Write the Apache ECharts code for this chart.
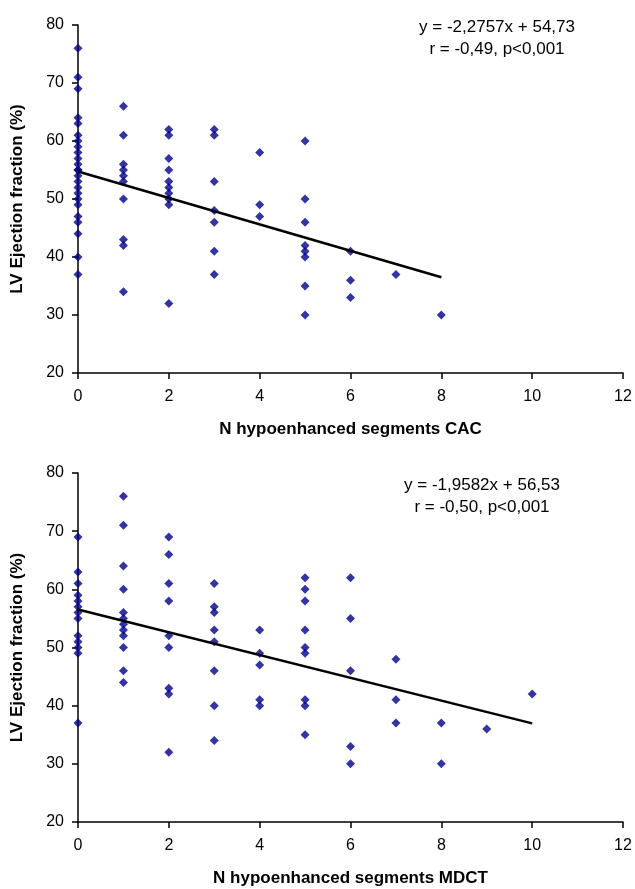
<!DOCTYPE html>
<html>
<head>
<meta charset="utf-8">
<script src="https://cdn.jsdelivr.net/npm/echarts@6/dist/echarts.min.js"></script>
<style>
html,body{margin:0;padding:0;background:#fff;}
#chart{width:635px;height:889px;}
</style>
</head>
<body>
<div id="chart"></div>
<script>
// ---- Data (CAC) : EF values grouped by number of hypoenhanced segments ----
const cacSegments = [0, 1, 2, 3, 4, 5, 6, 7, 8];
const cacEF = [
  [76,71,69,64,63,61,60,59,58,57,56,55,55,54,53,52,51,50,49,47,46,44,40,37],
  [66,61,56,55,54,53,50,43,42,34],
  [62,61,57,55,53,52,51,50,49,32],
  [62,61,53,48,46,41,37],
  [58,49,47],
  [60,50,46,42,41,40,35,30],
  [41,36,33],
  [37],
  [30]
];
const cacTrend = [[0, 54.73], [8, 36.52]];
const cacEquation = 'y = -2,2757x + 54,73';
const cacStats = 'r = -0,49, p<0,001';

// ---- Data (MDCT) ----
const mdctSegments = [0, 1, 2, 3, 4, 5, 6, 7, 8, 9, 10];
const mdctEF = [
  [69,63,61,59,58,57,56,55,52,51,50,49,37],
  [76,71,64,60,56,55,54,53,52,50,46,44],
  [69,66,61,58,52,50,43,42,32],
  [61,57,56,53,51,46,40,34],
  [53,49,47,41,40],
  [62,60,58,53,50,49,41,40,35],
  [62,55,46,33,30],
  [48,41,37],
  [37,30],
  [36],
  [42]
];
const mdctTrend = [[0, 56.53], [10, 36.95]];
const mdctEquation = 'y = -1,9582x + 56,53';
const mdctStats = 'r = -0,50, p<0,001';

// ---- Axis settings ----
const xTicks = [0, 2, 4, 6, 8, 10, 12];
const yTicks = [20, 30, 40, 50, 60, 70, 80];
const yTitle = 'LV Ejection fraction (%)';
const xTitleTop = 'N hypoenhanced segments CAC';
const xTitleBottom = 'N hypoenhanced segments MDCT';

function pairs(segs, vals) {
  const out = [];
  segs.forEach((s, i) => vals[i].forEach(v => out.push([s, v])));
  return out;
}

const FONT = '"Liberation Sans", Arial, sans-serif';
const axisLineStyle = { color: '#000', width: 1.5 };

function xAxis(gridIndex, name) {
  return {
    type: 'value', gridIndex: gridIndex,
    min: xTicks[0], max: xTicks[xTicks.length - 1], interval: 2,
    name: name, nameLocation: 'middle', nameGap: 48,
    nameTextStyle: { fontFamily: FONT, fontWeight: 'bold', fontSize: 17, color: '#000' },
    axisLine: { show: true, onZero: false, lineStyle: axisLineStyle },
    axisTick: { show: true, length: 6, inside: false, lineStyle: axisLineStyle },
    axisLabel: { fontFamily: FONT, fontSize: 16, color: '#000', margin: 16 },
    splitLine: { show: false }
  };
}
function yAxis(gridIndex) {
  return {
    type: 'value', gridIndex: gridIndex,
    min: yTicks[0], max: yTicks[yTicks.length - 1], interval: 10,
    name: yTitle, nameLocation: 'middle', nameGap: 52,
    nameTextStyle: { fontFamily: FONT, fontWeight: 'bold', fontSize: 17, color: '#000' },
    axisLine: { show: true, onZero: false, lineStyle: axisLineStyle },
    axisTick: { show: true, length: 6, inside: false, lineStyle: axisLineStyle },
    axisLabel: { fontFamily: FONT, fontSize: 16, color: '#000', margin: 14 },
    splitLine: { show: false }
  };
}

const markerColor = '#00008B';
const chart = echarts.init(document.getElementById('chart'), null, { renderer: 'canvas' });
chart.setOption({
  animation: false,
  backgroundColor: '#fff',
  grid: [
    { left: 78, right: 12, top: 25, height: 348 },
    { left: 78, right: 12, top: 473, height: 349 }
  ],
  xAxis: [xAxis(0, xTitleTop), xAxis(1, xTitleBottom)],
  yAxis: [yAxis(0), yAxis(1)],
  series: [
    { type: 'scatter', xAxisIndex: 0, yAxisIndex: 0, symbol: 'diamond', symbolSize: 9,
      itemStyle: { color: markerColor }, data: pairs(cacSegments, cacEF), z: 3 },
    { type: 'line', xAxisIndex: 0, yAxisIndex: 0, symbol: 'none',
      lineStyle: { color: '#000', width: 2.5 }, data: cacTrend, z: 4 },
    { type: 'scatter', xAxisIndex: 1, yAxisIndex: 1, symbol: 'diamond', symbolSize: 9,
      itemStyle: { color: markerColor }, data: pairs(mdctSegments, mdctEF), z: 3 },
    { type: 'line', xAxisIndex: 1, yAxisIndex: 1, symbol: 'none',
      lineStyle: { color: '#000', width: 2.5 }, data: mdctTrend, z: 4 }
  ],
  graphic: [
    { type: 'text', position: [497, 38], style: { text: cacEquation + '\n' + cacStats, x: 0, y: 0,
      textAlign: 'center', textVerticalAlign: 'middle', font: '17px ' + FONT, fill: '#000', lineHeight: 22 } },
    { type: 'text', position: [482, 496], style: { text: mdctEquation + '\n' + mdctStats, x: 0, y: 0,
      textAlign: 'center', textVerticalAlign: 'middle', font: '17px ' + FONT, fill: '#000', lineHeight: 22 } }
  ]
});
</script>
</body>
</html>
